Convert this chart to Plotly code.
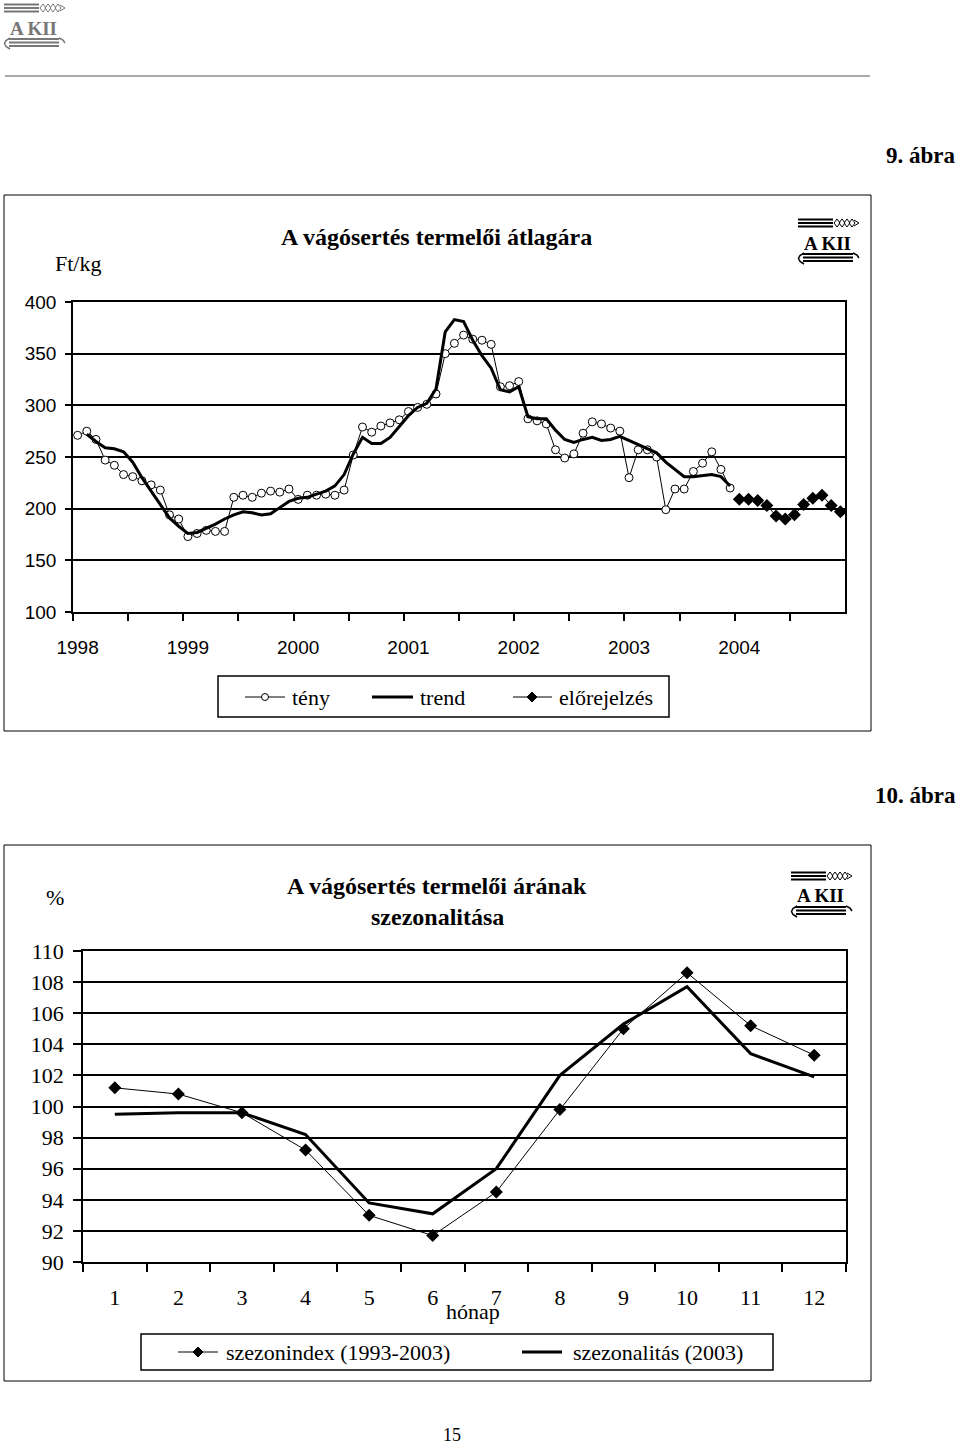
import plotly.graph_objects as go

W, H = 960, 1444
SERIF = "Liberation Serif"
SANS = "Liberation Sans"

# ---------------- data: chart 1 (Ft/kg, monthly) ----------------
years = [1998, 1999, 2000, 2001, 2002, 2003, 2004]
months = [f"{y}-{m:02d}" for y in years for m in range(1, 13)]

teny = [271, 275, 267, 247, 242, 233, 231, 227, 223, 218, 194, 190,
        173, 176, 179, 178, 178, 211, 213, 211, 215, 217, 216, 219,
        209, 213, 213, 214, 213, 218, 252, 279, 274, 280, 283, 286,
        294, 298, 301, 311, 350, 360, 368, 364, 363, 359, 318, 319,
        323, 287, 285, 282, 257, 249, 253, 273, 284, 282, 278, 275,
        230, 257, 257, 250, 199, 219, 219, 236, 244, 255, 238, 220]
trend = [None, 272, 265, 259, 258, 255, 245, 230, 217, 204, 191, 183,
         176, 177, 181, 185, 190, 194, 197, 196, 194, 195, 201, 207,
         210, 211, 214, 217, 222, 233, 253, 269, 263, 263, 269, 280,
         290, 298, 302, 316, 371, 383, 381, 363, 348, 336, 315, 313,
         318, 289, 287, 287, 276, 267, 264, 267, 269, 266, 267, 270,
         266, 262, 258, 254, 245, 238, 231, 231, 232, 233, 231, 222]
elorejelzes = [209, 209, 208, 203, 193, 190, 194, 204, 210, 213, 203, 197]

# ---------------- data: chart 2 (%, month of year) ----------------
honap = [1, 2, 3, 4, 5, 6, 7, 8, 9, 10, 11, 12]
szezonindex = [101.2, 100.8, 99.6, 97.2, 93.0, 91.7, 94.5, 99.8, 105.0, 108.6, 105.2, 103.3]
szezonalitas = [99.5, 99.6, 99.6, 98.2, 93.8, 93.1, 96.0, 102.0, 105.3, 107.7, 103.4, 101.9]

# positions of months on the numeric x axis
pos = {m: i for i, m in enumerate(months)}
x_teny = [pos[m] for m in months[:len(teny)]]
x_trend = [pos[m] for m in months[:len(trend)]]
x_fc = [pos[m] for m in months[len(teny):len(teny) + len(elorejelzes)]]
year_ticks = [pos[f"{y}-01"] for y in years]


def PX(x):
    return x / W


def PY(y):
    return 1 - y / H


fig = go.Figure()

fig.add_trace(go.Scatter(
    x=x_teny, y=teny, name="tény", mode="lines+markers",
    line=dict(color="black", width=1),
    marker=dict(symbol="circle", size=8, color="white", line=dict(color="black", width=1)),
    xaxis="x", yaxis="y"))
fig.add_trace(go.Scatter(
    x=x_trend, y=trend, name="trend", mode="lines",
    line=dict(color="black", width=3),
    xaxis="x", yaxis="y"))
fig.add_trace(go.Scatter(
    x=x_fc, y=elorejelzes, name="előrejelzés", mode="lines+markers",
    line=dict(color="black", width=1),
    marker=dict(symbol="diamond", size=10, color="black"),
    xaxis="x", yaxis="y"))

fig.add_trace(go.Scatter(
    x=honap, y=szezonindex, name="szezonindex (1993-2003)", mode="lines+markers",
    line=dict(color="black", width=1),
    marker=dict(symbol="diamond", size=10, color="black"),
    xaxis="x2", yaxis="y2"))
fig.add_trace(go.Scatter(
    x=honap, y=szezonalitas, name="szezonalitás (2003)", mode="lines",
    line=dict(color="black", width=3),
    xaxis="x2", yaxis="y2"))

axis_common = dict(showline=True, linecolor="black", linewidth=1.5, mirror=True,
                   zeroline=False, fixedrange=True, automargin=False)

fig.update_layout(
    width=W, height=H,
    margin=dict(l=0, r=0, t=0, b=0, pad=0, autoexpand=False),
    paper_bgcolor="white", plot_bgcolor="white",
    font=dict(family=SERIF, color="black"),
    showlegend=False,
    xaxis=dict(
        domain=[PX(73), PX(845)], range=[-0.5, len(months) - 0.5],
        tickvals=year_ticks, ticktext=[str(y) for y in years], ticks="",
        ticklabelstandoff=17,
        tickfont=dict(family=SANS, size=19, color="black"),
        showgrid=False,
        minor=dict(tickvals=[v - 0.5 for v in range(0, len(months), 6)],
                   ticks="outside", ticklen=7, tickcolor="black", tickwidth=1.5,
                   showgrid=False),
        anchor="y", **axis_common),
    yaxis=dict(
        domain=[PY(612), PY(302)], range=[100, 400], dtick=50,
        ticks="outside", ticklen=6, tickcolor="black", tickwidth=1.5,
        ticklabelstandoff=5,
        tickfont=dict(family=SANS, size=19, color="black"),
        showgrid=True, gridcolor="black", gridwidth=1.5,
        anchor="x", **axis_common),
    xaxis2=dict(
        domain=[PX(83), PX(846)], range=[0.5, 12.5],
        tickvals=honap, ticktext=[str(h) for h in honap], ticks="",
        ticklabelstandoff=15,
        tickfont=dict(family=SERIF, size=22, color="black"),
        showgrid=False,
        minor=dict(tickvals=[h - 0.5 for h in honap] + [12.5],
                   ticks="outside", ticklen=8, tickcolor="black", tickwidth=1.5,
                   showgrid=False),
        anchor="y2", **axis_common),
    yaxis2=dict(
        domain=[PY(1262), PY(951)], range=[90, 110], dtick=2,
        ticks="outside", ticklen=8, tickcolor="black", tickwidth=1.5,
        ticklabelstandoff=5,
        tickfont=dict(family=SERIF, size=22, color="black"),
        showgrid=True, gridcolor="black", gridwidth=1.5,
        anchor="x2", **axis_common),
)

shapes = []
annotations = []


def line(x0, y0, x1, y1, color="black", width=1):
    shapes.append(dict(type="line", xref="paper", yref="paper",
                       x0=PX(x0), y0=PY(y0), x1=PX(x1), y1=PY(y1),
                       line=dict(color=color, width=width)))


def text(x, y, s, size=22, bold=False, xanchor="center", family=SERIF, color="black"):
    annotations.append(dict(xref="paper", yref="paper", x=PX(x), y=PY(y),
                            xanchor=xanchor, yanchor="middle", showarrow=False,
                            text=f"<b>{s}</b>" if bold else s,
                            font=dict(family=family, size=size, color=color)))


def path(points, color="black", width=1, closed=False, fill=None):
    d = "M " + " L ".join(f"{PX(x):.5f},{PY(y):.5f}" for x, y in points)
    if closed:
        d += " Z"
    shp = dict(type="path", xref="paper", yref="paper", path=d,
               line=dict(color=color, width=width))
    if fill:
        shp["fillcolor"] = fill
    shapes.append(shp)


def rect(x0, y0, x1, y1, color="black", width=1, fill=None):
    shp = dict(type="rect", xref="paper", yref="paper",
               x0=PX(x0), x1=PX(x1), y0=PY(y1), y1=PY(y0),
               line=dict(color=color, width=width))
    if fill:
        shp["fillcolor"] = fill
    shapes.append(shp)


def circle(cx, cy, r, fill="white"):
    shapes.append(dict(type="circle", xref="paper", yref="paper",
                       x0=PX(cx - r), x1=PX(cx + r), y0=PY(cy + r), y1=PY(cy - r),
                       line=dict(color="black", width=1), fillcolor=fill))


def diamond(cx, cy, r):
    path([(cx - r, cy), (cx, cy - r), (cx + r, cy), (cx, cy + r)], "black", 1,
         closed=True, fill="black")


def logo(x0, y0, color):
    # stalk stripes
    for k in range(3):
        line(x0 + 1, y0 + 1.5 + 3.5 * k, x0 + 36, y0 + 1.5 + 3.5 * k, color, 2)
    # ear of wheat
    for k in range(4):
        cx = x0 + 37 + 5 * k
        path([(cx, y0 + 5), (cx + 3, y0 + 1), (cx + 6, y0 + 5), (cx + 3, y0 + 9)],
             color, 1, closed=True)
    path([(x0 + 57, y0 + 2), (x0 + 62, y0 + 5), (x0 + 57, y0 + 8)], color, 1)
    # letters
    text(x0 + 30, y0 + 25, "A KII", size=19, bold=True, color=color)
    # book
    for k in range(3):
        line(x0 + 6, y0 + 36 + 3.5 * k, x0 + 56, y0 + 36 + 3.5 * k, color, 1.8)
    path([(x0 + 7, y0 + 35), (x0 + 3, y0 + 37.5), (x0 + 1.5, y0 + 40.5),
          (x0 + 3, y0 + 43.5), (x0 + 7, y0 + 46)], color, 1.5)
    path([(x0 + 56, y0 + 35), (x0 + 60, y0 + 37), (x0 + 62, y0 + 40)], color, 1.5)


# page header
logo(3, 3, "#777777")
line(5, 76, 870, 76, "#555555", 1)
text(958, 156, "9. ábra", size=23, bold=True, xanchor="right")
text(958, 795, "10. ábra", size=23, bold=True, xanchor="right")
text(452, 1435, "15", size=18)

# chart frames
rect(4, 195, 871, 731)
rect(4, 845, 871, 1381)

# chart 1 texts
text(436, 237, "A vágósertés termelői átlagára", size=24, bold=True)
text(78, 263, "Ft/kg", size=22)
logo(797, 218, "black")

# chart 1 legend (drawn from the trace names)
names1 = [t.name for t in fig.data[:3]]
rect(218, 676, 669, 717, width=1.5)
ly = 697
line(245, ly, 285, ly, width=1)
circle(265, ly, 3.5)
text(290, ly, names1[0], xanchor="left")
line(372, ly, 413, ly, width=3)
text(418, ly, names1[1], xanchor="left")
line(513, ly, 552, ly, width=1)
diamond(532, ly, 5)
text(557, ly, names1[2], xanchor="left")

# chart 2 texts
text(437, 886, "A vágósertés termelői árának", size=24, bold=True)
text(437, 917, "szezonalitása", size=24, bold=True)
text(55, 897, "%", size=22)
text(473, 1311, "hónap", size=22)
logo(790, 871, "black")

# chart 2 legend
names2 = [t.name for t in fig.data[3:]]
rect(141, 1334, 773, 1370, width=1.5)
ly2 = 1352
line(178, ly2, 218, ly2, width=1)
diamond(198, ly2, 5)
text(224, ly2, names2[0], xanchor="left")
line(522, ly2, 562, ly2, width=3)
text(571, ly2, names2[1], xanchor="left")

fig.update_layout(shapes=shapes, annotations=annotations)

fig.write_html("out.html", config={"displayModeBar": False},
               post_script="document.body.style.margin='0';document.body.style.overflow='hidden';")
